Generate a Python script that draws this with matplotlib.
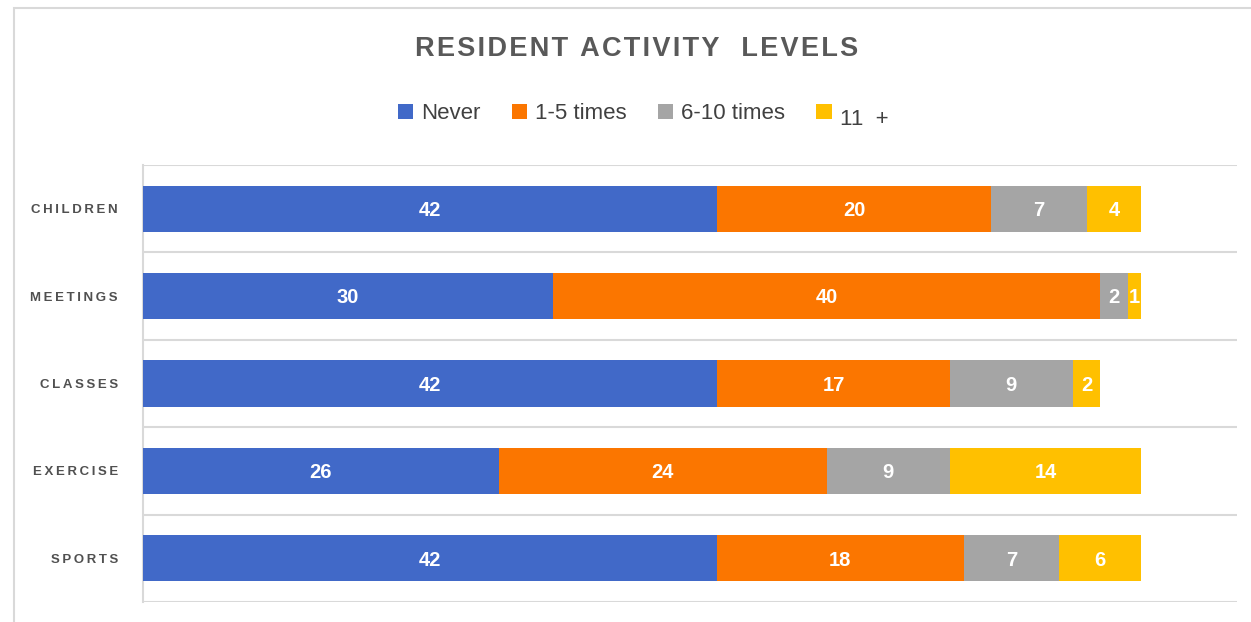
import matplotlib
matplotlib.use("Agg")
import matplotlib.pyplot as plt
import numpy as np
from matplotlib.patches import Rectangle, Patch
from matplotlib.transforms import ScaledTranslation

categories = ["CHILDREN", "MEETINGS", "CLASSES", "EXERCISE", "SPORTS"]
series_names = ["Never", "1-5 times", "6-10 times", "11  +"]
never = [42, 30, 42, 26, 42]
times_1_5 = [20, 40, 17, 24, 18]
times_6_10 = [7, 2, 9, 9, 7]
times_11_plus = [4, 1, 2, 14, 6]
colors = ["#4169C8", "#FB7600", "#A5A5A5", "#FFC000"]

FONT = ["Liberation Sans", "DejaVu Sans"]
plt.rcParams["font.family"] = FONT

def spaced(s, sep="\u200a"):
    return sep.join(s)

fig = plt.figure(figsize=(12.51, 6.22), dpi=100)
ax = fig.add_axes([143/1251, 1-602/622, (1237-143)/1251, (602-165)/622])

y = np.arange(len(categories))
left = np.zeros(len(categories))
for vals, name, col in zip([never, times_1_5, times_6_10, times_11_plus], series_names, colors):
    vals = np.array(vals, dtype=float)
    bars = ax.barh(y, vals, left=left, height=0.53, color=col, label=name, zorder=3)
    for b, v in zip(bars, vals):
        ax.text(b.get_x() + b.get_width()/2, b.get_y() + b.get_height()/2 + 0.02, f"{int(v)}",
                ha="center", va="center", color="white", fontsize=14.5, fontweight="bold", zorder=4)
    left += vals

ax.set_xlim(0, 80)
ax.set_ylim(len(categories) - 0.5, -0.5)
ax.set_yticks(y)
ax.set_yticklabels([spaced(c, "\u2009") for c in categories], fontsize=9.5, color="#505050",
                   fontweight="bold", va="center_baseline")
ax.tick_params(axis="y", length=0, pad=18)
ax.set_xticks([])
ax.set_yticks(np.arange(-0.5, len(categories)), minor=True)
ax.tick_params(axis="y", which="minor", length=0)
ax.grid(axis="y", which="minor", color="#D9D9D9", linewidth=1.5, zorder=0)
for s in ["top", "right", "bottom"]:
    ax.spines[s].set_visible(False)
ax.spines["left"].set_color("#D9D9D9")
ax.spines["left"].set_linewidth(1.5)

fig.text(637/1251, 1-49/622, spaced("RESIDENT ACTIVITY  LEVELS", "\u200a"), ha="center", va="center",
         fontsize=19.5, fontweight="bold", color="#595959")

handles = [Patch(facecolor=c, edgecolor="none") for c in colors]
leg = fig.legend(handles, series_names, loc="center", bbox_to_anchor=(643/1251, 1-114/622),
                 ncol=4, frameon=False, fontsize=16, handlelength=0.7, handleheight=0.7,
                 handletextpad=0.35, columnspacing=1.4, labelcolor="#404040")
t = leg.get_texts()[3]
t.set_transform(t.get_transform() + ScaledTranslation(0, -6/100, fig.dpi_scale_trans))

fig.add_artist(Rectangle((14/1251, -0.1), 1.2, 0.1 + (1-8/622), transform=fig.transFigure,
                         fill=False, edgecolor="#D9D9D9", linewidth=1.5))

fig.savefig("out.png", dpi=100)
